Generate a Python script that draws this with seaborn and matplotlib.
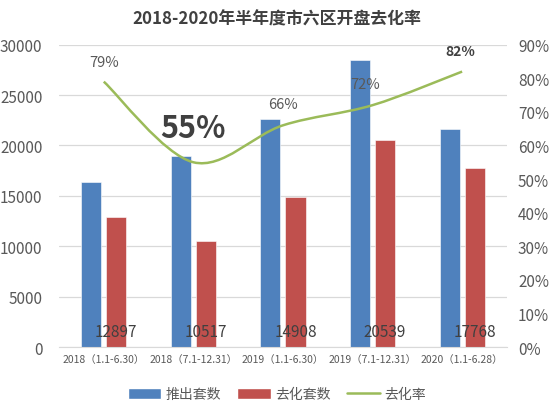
import pandas as pd
import seaborn as sns
import matplotlib.pyplot as plt
from matplotlib.path import Path
from matplotlib.patches import PathPatch, Patch
from matplotlib.lines import Line2D
from matplotlib.ticker import FuncFormatter

# Data
periods = ["2018（1.1-6.30）", "2018（7.1-12.31）", "2019（1.1-6.30）",
           "2019（7.1-12.31）", "2020（1.1-6.28）"]
launched = [16400, 19000, 22600, 28500, 21600]   # 推出套数
sold = [12897, 10517, 14908, 20539, 17768]       # 去化套数
rate = [0.79, 0.55, 0.66, 0.72, 0.82]            # 去化率

sns.set_style("white")
plt.rcParams["font.family"] = ["Noto Sans CJK SC", "DejaVu Sans"]

grey = "#595959"
blue, red, green = "#4F81BD", "#C0504D", "#9BBB59"

df = pd.DataFrame({"period": periods * 2,
                   "count": launched + sold,
                   "kind": ["推出套数"] * 5 + ["去化套数"] * 5})

fig = plt.figure(figsize=(5.54, 4.14), dpi=100)
ax = fig.add_axes([0.1065, 0.1594, 0.8085, 0.7302])

sns.barplot(data=df, x="period", y="count", hue="kind", order=periods,
            palette={"推出套数": blue, "去化套数": red}, width=0.56, gap=0.2,
            saturation=1, legend=False, ax=ax)
for p in ax.patches:
    p.set_edgecolor("white")
    p.set_linewidth(0.4)

ax.set_ylim(0, 30000)
ax.set_yticks(range(0, 30001, 5000))
ax.set_xlim(-0.5, 4.5)
ax.grid(axis="y", color="#d9d9d9", linewidth=0.9)
ax.set_axisbelow(True)
ax.set_xlabel("")
ax.set_ylabel("")
for s in ["top", "left", "right"]:
    ax.spines[s].set_visible(False)
ax.spines["bottom"].set_color("#d9d9d9")
ax.tick_params(axis="y", colors=grey, labelsize=11, length=0, pad=12)
ax.tick_params(axis="x", colors=grey, labelsize=7.5, length=0, pad=5)

# sold counts near the base of the red bars
for i, v in enumerate(sold):
    ax.text(i + 0.14, 1500, str(v), ha="center", va="center",
            fontsize=11, color="#404040")

# rate line on the right axis, drawn as a smooth curve through the points
ax2 = ax.twinx()
ax2.set_ylim(0, 0.9)
ax2.set_yticks([i / 10 for i in range(10)])
ax2.yaxis.set_major_formatter(FuncFormatter(lambda v, _: f"{v:.0%}"))
ax2.tick_params(axis="y", colors=grey, labelsize=11, length=0, pad=8)
for s in ax2.spines.values():
    s.set_visible(False)

pts = list(zip(range(len(rate)), rate))
verts = [pts[0]]
codes = [Path.MOVETO]
for i in range(len(pts) - 1):
    p0 = pts[max(i - 1, 0)]
    p1 = pts[i]
    p2 = pts[i + 1]
    p3 = pts[min(i + 2, len(pts) - 1)]
    c1 = (p1[0] + (p2[0] - p0[0]) / 6, p1[1] + (p2[1] - p0[1]) / 6)
    c2 = (p2[0] - (p3[0] - p1[0]) / 6, p2[1] - (p3[1] - p1[1]) / 6)
    verts += [c1, c2, p2]
    codes += [Path.CURVE4] * 3
ax2.add_patch(PathPatch(Path(verts, codes), facecolor="none",
                        edgecolor=green, linewidth=1.8))

label_style = [
    dict(dx=0, dy=14, size=10.5, weight="normal"),
    dict(dx=0, dy=25, size=22, weight="bold"),
    dict(dx=0, dy=15, size=10.5, weight="normal"),
    dict(dx=-5, dy=15, size=10.5, weight="normal"),
    dict(dx=-1, dy=15, size=10, weight="bold"),
]
for i, (r, st) in enumerate(zip(rate, label_style)):
    ax2.annotate(f"{r:.0%}", (i, r), xytext=(st["dx"], st["dy"]),
                 textcoords="offset points", ha="center", va="center",
                 fontsize=st["size"], fontweight=st["weight"],
                 color="#404040" if st["weight"] == "bold" else grey)

fig.suptitle("2018-2020年半年度市六区开盘去化率", x=0.5, y=0.975,
             fontsize=12.2, fontweight="bold", color="#404040")

handles = [Patch(facecolor=blue, label="推出套数"),
           Patch(facecolor=red, label="去化套数"),
           Line2D([0], [0], color=green, linewidth=1.8, label="去化率")]
fig.legend(handles=handles, loc="center", bbox_to_anchor=(0.5, 0.045),
           ncol=3, frameon=False, fontsize=10, labelcolor=grey,
           handlelength=2.4, handleheight=0.9, columnspacing=1.2,
           handletextpad=0.3)

fig.savefig("out.png", dpi=100)
